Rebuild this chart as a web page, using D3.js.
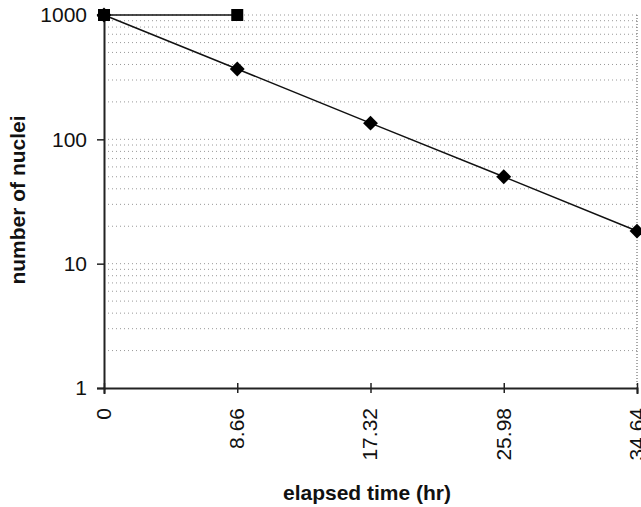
<!DOCTYPE html>
<html>
<head>
<meta charset="utf-8">
<script src="https://cdn.jsdelivr.net/npm/d3@7"></script>
<style>
  body { margin: 0; background: #fff; }
  text { font-family: "Liberation Sans", Arial, sans-serif; fill: #111; }
</style>
</head>
<body>
<div id="chart"></div>
<script>
// elapsed time (hr)
var times = [0, 8.66, 17.32, 25.98, 34.64];
// decaying nuclei (diamonds)
var decaying = [1000, 368, 135, 50, 18.3];
// reference series (squares)
var refTimes = [0, 8.66];
var refValues = [1000, 1000];
// axis ticks
var yTicks = [1, 10, 100, 1000];
var xTicks = ["0", "8.66", "17.32", "25.98", "34.64"];

var W = 641, H = 507;
var margin = {top: 15, right: 4, bottom: 119, left: 104};
var width = W - margin.left - margin.right;
var height = H - margin.top - margin.bottom;

var svg = d3.select("#chart").append("svg")
    .attr("width", W)
    .attr("height", H);

var g = svg.append("g")
    .attr("transform", "translate(" + margin.left + "," + margin.top + ")");

var x = d3.scaleLinear().domain([0, 34.64]).range([0, width]);
var y = d3.scaleLog().domain([1, 1000]).range([height, 0]);

// minor gridlines 2..9 per decade plus decade lines
var gridVals = [];
[1, 10, 100].forEach(function(dec) {
  for (var k = 2; k <= 10; k++) gridVals.push(dec * k);
});
g.selectAll(".grid")
    .data(gridVals)
    .enter().append("line")
    .attr("class", "grid")
    .attr("x1", 0).attr("x2", width)
    .attr("y1", function(d) { return y(d); })
    .attr("y2", function(d) { return y(d); })
    .attr("stroke", "#999")
    .attr("stroke-width", 1)
    .attr("stroke-dasharray", "1,3");

// right border dotted
g.append("line")
    .attr("x1", width).attr("x2", width)
    .attr("y1", 0).attr("y2", height)
    .attr("stroke", "#555")
    .attr("stroke-dasharray", "1,2");

// y axis
var yAxis = d3.axisLeft(y).tickValues(yTicks).tickFormat(d3.format("d")).tickSize(7).tickPadding(10);
var ya = g.append("g").call(yAxis);
ya.select(".domain").attr("stroke", "#222").attr("stroke-width", 2);
ya.selectAll(".tick line").attr("stroke", "#222").attr("stroke-width", 1.5);
ya.selectAll("text").style("font-size", "21px").attr("fill", "#111");

// x axis
var xAxis = d3.axisBottom(x).tickValues(times).tickFormat(function(d, i) { return xTicks[i]; }).tickSize(6);
var xa = g.append("g")
    .attr("transform", "translate(0," + height + ")")
    .call(xAxis);
xa.select(".domain").attr("stroke", "#222").attr("stroke-width", 2);
xa.selectAll(".tick line").attr("y1", -5).attr("y2", 5).attr("stroke", "#222").attr("stroke-width", 1.5);
xa.selectAll("text")
    .style("font-size", "21px")
    .attr("fill", "#111")
    .attr("text-anchor", "end")
    .attr("transform", "rotate(-90)")
    .attr("x", -20)
    .attr("y", -1)
    .attr("dy", "0.35em");

// lines
var line = d3.line()
    .x(function(d) { return x(d[0]); })
    .y(function(d) { return y(d[1]); });

var decayPts = times.map(function(t, i) { return [t, decaying[i]]; });
var refPts = refTimes.map(function(t, i) { return [t, refValues[i]]; });

g.append("path")
    .datum(decayPts)
    .attr("d", line)
    .attr("fill", "none")
    .attr("stroke", "#111")
    .attr("stroke-width", 1.5);

g.append("path")
    .datum(refPts)
    .attr("d", line)
    .attr("fill", "none")
    .attr("stroke", "#111")
    .attr("stroke-width", 1.5);

g.selectAll(".diamond")
    .data(decayPts)
    .enter().append("path")
    .attr("class", "diamond")
    .attr("d", d3.symbol().type(d3.symbolDiamond2).size(140))
    .attr("transform", function(d) { return "translate(" + x(d[0]) + "," + y(d[1]) + ")"; })
    .attr("fill", "#000");

g.selectAll(".square")
    .data(refPts)
    .enter().append("rect")
    .attr("class", "square")
    .attr("x", function(d) { return x(d[0]) - 6; })
    .attr("y", function(d) { return y(d[1]) - 6; })
    .attr("width", 12)
    .attr("height", 12)
    .attr("fill", "#000");

// axis titles
svg.append("text")
    .attr("x", 367)
    .attr("y", 500)
    .attr("text-anchor", "middle")
    .style("font-size", "21px")
    .style("font-weight", "bold")
    .text("elapsed time (hr)");

svg.append("text")
    .attr("transform", "translate(25,200) rotate(-90)")
    .attr("text-anchor", "middle")
    .style("font-size", "21px")
    .style("font-weight", "bold")
    .text("number of nuclei");
</script>
</body>
</html>
